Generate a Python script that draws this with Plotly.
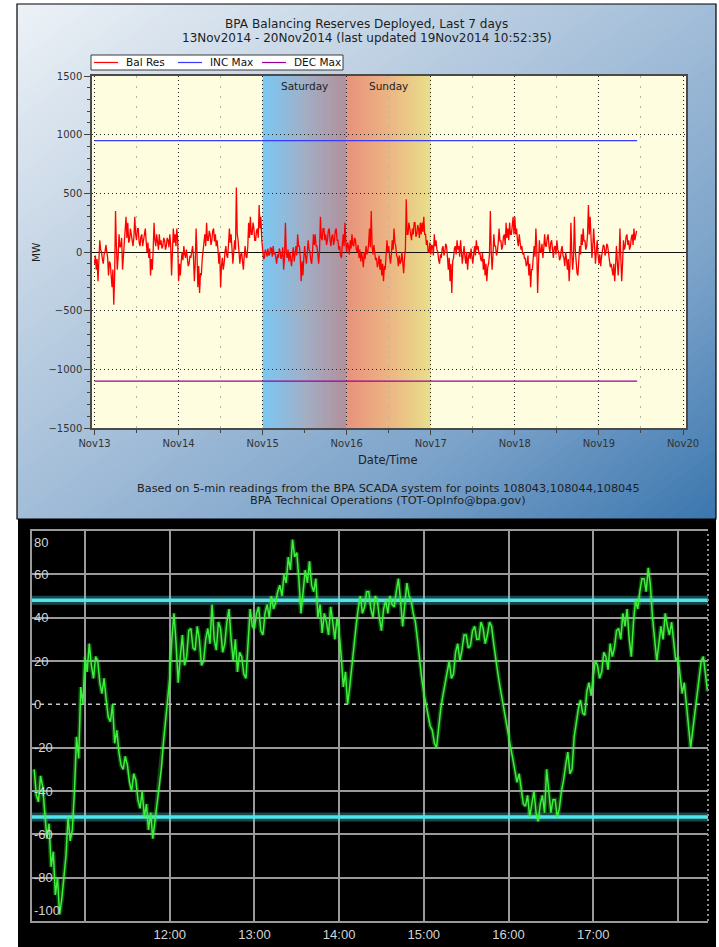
import pandas as pd
import plotly.graph_objects as go

W, H = 719, 947
FONT = "DejaVu Sans, Verdana, sans-serif"
FONT2 = "Liberation Sans, Arial, sans-serif"

# ---------------- top chart: texts ----------------
TITLE_LINE1 = "BPA Balancing Reserves Deployed, Last 7 days"
TITLE_LINE2 = "13Nov2014 - 20Nov2014 (last updated 19Nov2014 10:52:35)"
FOOTER_LINE1 = "Based on 5-min readings from the BPA SCADA system for points 108043,108044,108045"
FOOTER_LINE2 = "BPA Technical Operations (TOT-OpInfo@bpa.gov)"
X_TITLE = "Date/Time"
Y_TITLE = "MW"
SERIES_NAMES = ["Bal Res", "INC Max", "DEC Max"]
SERIES_COLORS = ["#ff0000", "#3a3aff", "#990099"]

# ---------------- top chart: data (MW, 15-minute samples) ----------------
DAY_STARTS = ["2014-11-13", "2014-11-14", "2014-11-15", "2014-11-16",
              "2014-11-17", "2014-11-18", "2014-11-19"]
NOV13 = [-100, -30, -150, -60, -250, -80, 100, 20, 0, -60, -100, -20, 0, 60, 20, -50,
         -200, -80, -100, -180, -300, -150, -450, -200, 350, 50, -150, -40, 150, 40, 50, 120,
         -150, -40, 50, 150, 300, 120, 250, 80, 100, 200, 150, 60, 50, 130, 300, 150,
         100, 200, 200, 80, 50, 130, 150, 50, 100, 180, 200, 90, 0, 80, -50, 30,
         -200, -60, -150, 20, 250, 100, 50, 150, 100, 20, 150, 60, 100, 30, 50, 120,
         100, 20, 50, 120, 100, 40, 150, 60, -200, -50, 200, 80, 150, 50, 200, 100]
NOV14 = [-250, -100, -200, -80, 0, -70, 50, -20, -50, 20, -50, -120, -100, -30, -50, 30,
         50, -40, -250, -100, 200, 0, -300, -120, -350, -180, -200, -60, 0, 80, 150, 50,
         250, 100, 100, 180, 150, 60, 100, 180, 200, 90, 150, 50, 100, 20, -100, 0,
         -300, -120, -50, -150, -100, 0, 50, -30, -50, 60, 200, 80, 150, 30, -100, 0,
         100, 20, 550, 150, 100, 0, -100, -20, 0, -80, -150, -30, 50, -40, -50, 40,
         250, 120, 300, 150, 150, 250, 200, 100, 100, 180, 200, 120, 400, 200, 300, 100]
NOV15 = [0, -60, -50, 20, 0, -40, 30, -30, -20, 40, 30, -40, 50, -20, 0, -80,
         -100, -20, -50, 30, 0, -60, -30, 40, -150, -40, 250, 0, -50, 20, -80, 0,
         -50, -120, -30, 40, -80, 0, 50, -30, 150, 50, 50, -50, -250, -80, -200, -50,
         50, -40, -100, 0, 100, 20, 0, -70, -100, 0, 150, 60, 150, 50, 50, -20,
         -100, 20, 300, 120, 100, 200, 200, 100, 150, 60, 100, 180, 200, 100, 50, 130,
         150, 60, 100, 180, 200, 100, 100, 20, 50, -30, -50, 60, 150, 50, 250, 80]
NOV16 = [0, 80, 50, -20, 100, 30, 150, 60, 50, 120, 100, 20, 0, 60, -50, 20,
         -80, -10, -50, -130, 0, -60, 50, -20, 0, 70, 200, 40, 350, 50, -20, 60,
         0, -70, -50, -130, -100, -30, -150, -60, -200, -100, -250, -120, -150, -40, 100, 0,
         50, -40, -100, -20, 100, 20, 200, 80, 50, -30, -50, -120, -30, -100, -80, 0,
         -100, -180, -50, 20, 450, 150, 150, 250, 200, 120, 100, 200, 150, 250, 250, 130,
         150, 230, 200, 120, 250, 150, 250, 170, 300, 150, 150, 60, 100, 0, 0, 80]
NOV17 = [-20, 60, 50, -30, 150, 50, 100, 20, 0, -70, -100, -20, -50, 30, 50, -30,
         0, 70, 50, -40, -150, -50, -250, -100, -350, -80, -50, 30, 50, -20, 100, 20,
         50, -40, 100, 0, -100, -20, 50, -40, -100, 0, -150, -50, 0, -60, 30, -40,
         -100, -20, 50, -30, 100, 20, 50, -20, 0, -60, -80, -10, -150, -60, -200, -100,
         -250, -130, -100, -20, 350, 0, -150, -30, 150, 50, 50, -30, 0, 80, 200, 90,
         100, 20, 50, 130, 150, 60, 250, 120, 200, 100, 250, 150, 150, 220, 300, 150]
NOV18 = [300, 150, 200, 100, 50, 150, 100, 20, 50, -20, 0, -60, -50, -120, -100, -30,
         -200, -100, -300, -150, -150, -50, 50, -40, 200, 50, -350, -100, 100, 0, 0, 70,
         -50, 30, 150, 50, 50, 120, 150, 50, 0, 80, 100, 20, -50, 40, 50, -20,
         100, 20, 0, -70, -50, 20, 50, -30, -50, -120, 0, -60, -150, -60, -250, -100,
         250, 0, -150, -40, 300, 20, -100, -180, -200, -80, 50, -20, 150, 60, 200, 90,
         100, 20, 50, 150, 400, 150, 300, 120, -50, 50, 200, 60, -100, 0, 100, -20]
NOV19 = [-100, -20, -120, -40, 0, 60, 50, -30, 0, 70, 50, -20, -50, -130, -100, -180,
         -200, -100, -250, -120, 50, -80, -200, -60, 200, -50, -250, -100, 100, 20, 50, 130,
         150, 60, 100, 20, 50, 120, 150, 60, 200, 100, 150, 180]
BAL_RES_BY_DAY = [NOV13, NOV14, NOV15, NOV16, NOV17, NOV18, NOV19]
SAMPLE_FREQ = "15min"
INC_MAX = 950
DEC_MAX = -1100
LIMIT_SPAN = ["2014-11-13 00:00", "2014-11-19 10:55"]
WEEKEND_DAYS = ["2014-11-15", "2014-11-16"]
WEEKEND_NAMES = ["Saturday", "Sunday"]
Y_TICKS = [-1500, -1000, -500, 0, 500, 1000, 1500]

# ---------------- bottom chart: data (1.5-minute samples) ----------------
GREEN_START_HOUR = 10.4      # 10:24
GREEN_STEP_HOURS = 0.025     # 1.5 minutes
GREEN = [-30, -42, -45, -33, -38, -50, -62, -55, -75, -68, -88, -80, -97, -90, -80, -70, -52, -63, -58, -40,
         -15, -25, 8, 0, 22, 15, 28, 18, 12, 22, 20, 10, 5, 12, 2, -6, -8, 0, -18, -12,
         -22, -28, -30, -24, -28, -36, -40, -32, -35, -44, -48, -40, -52, -46, -58, -50, -62, -54, -45, -38,
         -30, -18, -8, 2, 12, 30, 42, 28, 10, 22, 32, 18, 22, 34, 35, 26, 25, 36, 30, 18,
         20, 30, 35, 28, 46, 30, 25, 38, 35, 24, 28, 38, 44, 30, 20, 30, 15, 24, 22, 14,
         12, 28, 44, 36, 35, 42, 45, 34, 32, 42, 46, 40, 50, 44, 47, 52, 55, 50, 60, 56,
         68, 62, 76, 68, 70, 58, 42, 52, 62, 56, 66, 55, 52, 58, 40, 46, 33, 42, 38, 32,
         45, 38, 30, 40, 33, 22, 8, 15, 0, 8, 18, 28, 36, 44, 50, 42, 45, 52, 52, 44,
         40, 50, 48, 40, 34, 44, 48, 42, 50, 46, 45, 52, 58, 48, 36, 46, 56, 50, 48, 42,
         38, 30, 20, 12, 5, 0, -5, -10, -12, -18, -20, -10, -2, 4, 10, 16, 20, 12, 14, 24,
         28, 20, 25, 32, 32, 26, 27, 34, 36, 30, 30, 38, 35, 28, 32, 38, 36, 28, 20, 14,
         8, 2, -3, -8, -15, -20, -25, -30, -36, -32, -40, -46, -47, -42, -52, -45, -40, -50, -54, -46,
         -42, -50, -30, -40, -50, -44, -44, -52, -48, -40, -35, -28, -22, -32, -30, -15, -8, -2, 2, -4,
         -5, 6, 10, 4, 13, 20, 18, 12, 15, 24, 22, 16, 28, 22, 26, 34, 35, 30, 42, 36,
         44, 30, 22, 38, 48, 44, 52, 58, 58, 52, 63, 55, 40, 30, 20, 28, 36, 30, 42, 36,
         32, 38, 28, 20, 22, 12, 5, 10, 0, -8, -20, -12, -5, 4, 12, 20, 22, 15, 6]
UPPER_LIMIT = 48
LOWER_LIMIT = -52
HOUR_TICKS = [11, 12, 13, 14, 15, 16, 17, 18]
HOUR_LABELS = ["", "12:00", "13:00", "14:00", "15:00", "16:00", "17:00", ""]
Y2_GRID = [-80, -60, -40, -20, 20, 40, 60]
Y2_LABELS = [80, 60, 40, 20, 0, -20, -40, -60, -80, -100]
X2_RANGE = [10.374, 18.355]
Y2_RANGE = [-100, 80]


# ---------------- helpers ----------------
def PX(x):
    return x / W


def PY(y):
    return 1 - y / H


def hex_rgb(h):
    h = h.lstrip("#")
    return [int(h[i:i + 2], 16) for i in (0, 2, 4)]


def interp_color(stops, t):
    for (t0, c0), (t1, c1) in zip(stops[:-1], stops[1:]):
        if t <= t1:
            f = 0 if t1 == t0 else (t - t0) / (t1 - t0)
            a, b = hex_rgb(c0), hex_rgb(c1)
            return "rgb(%d,%d,%d)" % tuple(round(a[k] + f * (b[k] - a[k])) for k in range(3))
    return "rgb(%d,%d,%d)" % tuple(hex_rgb(stops[-1][1]))


def clip(poly, fn):
    out = []
    n = len(poly)
    for i in range(n):
        p, q = poly[i], poly[(i + 1) % n]
        fp, fq = fn(p), fn(q)
        if fp >= 0:
            out.append(p)
        if (fp >= 0) != (fq >= 0):
            t = fp / (fp - fq)
            out.append((p[0] + t * (q[0] - p[0]), p[1] + t * (q[1] - p[1])))
    return out


# ---------------- traces ----------------
fig = go.Figure()

bal_x, bal_y = [], []
for day, vals in zip(DAY_STARTS, BAL_RES_BY_DAY):
    bal_x += list(pd.date_range(day, periods=len(vals), freq=SAMPLE_FREQ))
    bal_y += vals

fig.add_trace(go.Scatter(x=bal_x, y=bal_y, mode="lines", name=SERIES_NAMES[0],
                         line=dict(color=SERIES_COLORS[0], width=1.3), xaxis="x", yaxis="y"))
fig.add_trace(go.Scatter(x=LIMIT_SPAN, y=[INC_MAX, INC_MAX], mode="lines", name=SERIES_NAMES[1],
                         line=dict(color=SERIES_COLORS[1], width=1.3), xaxis="x", yaxis="y"))
fig.add_trace(go.Scatter(x=LIMIT_SPAN, y=[DEC_MAX, DEC_MAX], mode="lines", name=SERIES_NAMES[2],
                         line=dict(color=SERIES_COLORS[2], width=1.2), xaxis="x", yaxis="y"))

green_x = [GREEN_START_HOUR + i * GREEN_STEP_HOURS for i in range(len(GREEN))]

fig.add_trace(go.Scatter(x=X2_RANGE, y=[0, 0], mode="lines", showlegend=False, hoverinfo="skip",
                         line=dict(color="#c8c8c8", width=1.5, dash="4px,4px"), xaxis="x2", yaxis="y2"))
for lim in (UPPER_LIMIT, LOWER_LIMIT):
    fig.add_trace(go.Scatter(x=X2_RANGE, y=[lim, lim], mode="lines", showlegend=False, hoverinfo="skip",
                             line=dict(color="rgba(90,235,245,0.30)", width=9), xaxis="x2", yaxis="y2"))
    fig.add_trace(go.Scatter(x=X2_RANGE, y=[lim, lim], mode="lines", showlegend=False, hoverinfo="skip",
                             line=dict(color="#50e4ec", width=3.5), xaxis="x2", yaxis="y2"))
fig.add_trace(go.Scatter(x=green_x, y=GREEN, mode="lines", showlegend=False, hoverinfo="skip",
                         line=dict(color="rgba(60,255,60,0.28)", width=4.5), xaxis="x2", yaxis="y2"))
fig.add_trace(go.Scatter(x=green_x, y=GREEN, mode="lines", showlegend=False,
                         line=dict(color="#3cf03c", width=1.5), xaxis="x2", yaxis="y2"))

# ---------------- shapes (backgrounds, legend box) ----------------
shapes = []

FX0, FX1, FY0, FY1 = 17, 716, 4, 519
FRAME_STOPS = [(0, "#edf2f7"), (0.25, "#c8d7e6"), (0.5, "#a2bdd8"), (0.75, "#7aa2c9"), (1, "#3b76ae")]
NSTRIP = 90
square = [(0, 0), (1, 0), (1, 1), (0, 1)]
for i in range(NSTRIP):
    s0 = 2 * i / NSTRIP
    s1 = 2 * (i + 1) / NSTRIP + 0.012
    poly = clip(square, lambda p, s0=s0: p[0] + p[1] - s0)
    poly = clip(poly, lambda p, s1=s1: s1 - (p[0] + p[1]))
    if len(poly) < 3:
        continue
    pts = ["%.5f,%.5f" % (PX(FX0 + a * (FX1 - FX0)), PY(FY0 + b * (FY1 - FY0))) for a, b in poly]
    path = "M " + " L ".join(pts) + " Z"
    shapes.append(dict(type="path", path=path, xref="paper", yref="paper", layer="below",
                       fillcolor=interp_color(FRAME_STOPS, (i + 0.5) / NSTRIP), line=dict(width=0)))
shapes.append(dict(type="rect", xref="paper", yref="paper", layer="below",
                   x0=PX(FX0), x1=PX(FX1), y0=PY(FY1), y1=PY(FY0),
                   line=dict(color="#000000", width=1.2), fillcolor="rgba(0,0,0,0)"))
shapes.append(dict(type="rect", xref="paper", yref="paper", layer="below",
                   x0=PX(18), x1=PX(716), y0=0, y1=PY(519),
                   line=dict(width=0), fillcolor="#000000"))

# legend box (drawn by hand to match the compact original)
LEG_X0, LEG_X1, LEG_Y0, LEG_Y1 = 91, 343, 55, 70
LEG_STRIDE, LEG_LINE_X, LEG_LINE_LEN, LEG_TEXT_GAP = 84, 94, 24, 7
shapes.append(dict(type="rect", xref="paper", yref="paper", layer="below",
                   x0=PX(LEG_X0), x1=PX(LEG_X1), y0=PY(LEG_Y1), y1=PY(LEG_Y0),
                   line=dict(color="#3a3a3a", width=1), fillcolor="white"))
leg_mid = (LEG_Y0 + LEG_Y1) / 2
for k, col in enumerate(SERIES_COLORS):
    lx = LEG_LINE_X + k * LEG_STRIDE
    shapes.append(dict(type="line", xref="paper", yref="paper", layer="below",
                       x0=PX(lx), x1=PX(lx + LEG_LINE_LEN), y0=PY(leg_mid), y1=PY(leg_mid),
                       line=dict(color=col, width=1.2)))

x_lo = pd.Timestamp(DAY_STARTS[0]) - pd.Timedelta(days=2.5 / 84)
x_hi = pd.Timestamp(DAY_STARTS[0]) + pd.Timedelta(days=7 + 3.0 / 84)
shapes.append(dict(type="rect", xref="x", yref="y", layer="below",
                   x0=x_lo, x1=x_hi, y0=Y_TICKS[0], y1=Y_TICKS[-1],
                   line=dict(width=0), fillcolor="#fefde0"))

BAND_STOPS = [
    [(0, "#7ac8f3"), (0.5, "#a1afc6"), (1, "#b2909a")],
    [(0, "#e9927c"), (0.5, "#ecb583"), (1, "#e8df8c")],
]
NB = 60
for day, stops in zip(WEEKEND_DAYS, BAND_STOPS):
    d0 = pd.Timestamp(day)
    for j in range(NB):
        a0 = d0 + pd.Timedelta(days=j / NB)
        a1 = d0 + pd.Timedelta(days=min(1.0, (j + 1.6) / NB))
        shapes.append(dict(type="rect", xref="x", yref="y", layer="below",
                           x0=a0, x1=a1, y0=Y_TICKS[0], y1=Y_TICKS[-1],
                           line=dict(width=0), fillcolor=interp_color(stops, (j + 0.5) / NB)))

shapes.append(dict(type="line", xref="x2 domain", yref="y2 domain", x0=1, x1=1, y0=0, y1=1,
                   layer="above", line=dict(color="#8a8a8a", width=2, dash="2px,3px")))

# ---------------- annotations ----------------
ann = []


def text_at(txt, x, y, size, color="#1e1e1e", family=FONT, **kw):
    d = dict(text=txt, x=PX(x), y=PY(y), xref="paper", yref="paper", showarrow=False,
             xanchor=kw.pop("xanchor", "center"), yanchor="middle",
             font=dict(family=family, size=size, color=color))
    d.update(kw)
    ann.append(d)


text_at(TITLE_LINE1, 366.5, 24, 12.1)
text_at(TITLE_LINE2, 366.5, 38.5, 12.0)
text_at(Y_TITLE, 36, 252, 10.5, textangle=-90)
text_at(X_TITLE, 388, 460, 11.5)
text_at(FOOTER_LINE1, 388, 488, 11.3)
text_at(FOOTER_LINE2, 388, 500.5, 11.3)
for k, name in enumerate(SERIES_NAMES):
    text_at(name, LEG_LINE_X + k * LEG_STRIDE + LEG_LINE_LEN + LEG_TEXT_GAP - 1, leg_mid, 10.5,
            color="#111", xanchor="left")
for day, name in zip(WEEKEND_DAYS, WEEKEND_NAMES):
    ann.append(dict(text=name, x=pd.Timestamp(day) + pd.Timedelta(hours=12), y=Y_TICKS[-1],
                    xref="x", yref="y", showarrow=False, xanchor="center", yanchor="middle",
                    yshift=-10, font=dict(family=FONT, size=10.5, color="#222")))
for v in Y2_LABELS:
    if v == max(Y2_LABELS):
        ya, ys = "top", -2
    elif v == min(Y2_LABELS):
        ya, ys = "bottom", 1
    else:
        ya, ys = "middle", 0
    ann.append(dict(text=str(v), x=0, xref="x2 domain", y=v, yref="y2", xanchor="left",
                    yanchor=ya, yshift=ys, showarrow=False,
                    font=dict(family=FONT2, size=13, color="#d4d4d4")))

# ---------------- layout ----------------
fig.update_layout(
    width=W, height=H, margin=dict(l=0, r=0, t=0, b=0, pad=0, autoexpand=False),
    paper_bgcolor="white", plot_bgcolor="rgba(0,0,0,0)",
    font=dict(family=FONT, color="#222"),
    shapes=shapes, annotations=ann,
    showlegend=False,
    xaxis=dict(domain=[PX(92), PX(686)], anchor="y", type="date",
               range=[x_lo, x_hi], tick0=DAY_STARTS[0], dtick=86400000, tickformat="%b%d",
               ticks="outside", ticklen=5, tickcolor="#444", tickwidth=1,
               showline=True, mirror=True, linecolor="#4a4a4a", linewidth=1.5,
               showgrid=True, gridcolor="#222", gridwidth=1, griddash="1px,3px",
               zeroline=False, tickfont=dict(family=FONT, size=10, color="#333"),
               minor=dict(dtick=43200000, tick0=DAY_STARTS[0], ticks="outside", ticklen=3,
                          tickcolor="#444", showgrid=True, gridcolor="#b5b5a5",
                          griddash="2px,8px", gridwidth=1)),
    yaxis=dict(domain=[PY(428), PY(76)], anchor="x", range=[Y_TICKS[0], Y_TICKS[-1]],
               tickvals=Y_TICKS, ticks="outside", ticklen=6, tickcolor="#444",
               showline=True, mirror=True, linecolor="#4a4a4a", linewidth=1.5,
               showgrid=True, gridcolor="#222", gridwidth=1, griddash="1px,3px",
               zeroline=True, zerolinecolor="#111", zerolinewidth=1.2,
               tickfont=dict(family=FONT, size=10, color="#333"),
               minor=dict(dtick=100, tick0=0, ticks="outside", ticklen=3, tickcolor="#444",
                          showgrid=False)),
    xaxis2=dict(domain=[PX(32), PX(708)], anchor="y2", range=X2_RANGE,
                tickvals=HOUR_TICKS, ticktext=HOUR_LABELS, ticks="",
                showgrid=True, gridcolor="#9a9a9a", gridwidth=1.5,
                showline=True, mirror=True, linecolor="#9a9a9a", linewidth=2,
                zeroline=False, tickfont=dict(family=FONT2, size=13, color="#d4d4d4")),
    yaxis2=dict(domain=[PY(921), PY(531)], anchor="x2", range=Y2_RANGE,
                tickvals=Y2_GRID, showticklabels=False, ticks="",
                showgrid=True, gridcolor="#9a9a9a", gridwidth=1.5,
                showline=True, mirror=False, linecolor="#9a9a9a", linewidth=2,
                zeroline=False),
)

fig.write_html("out.html")
